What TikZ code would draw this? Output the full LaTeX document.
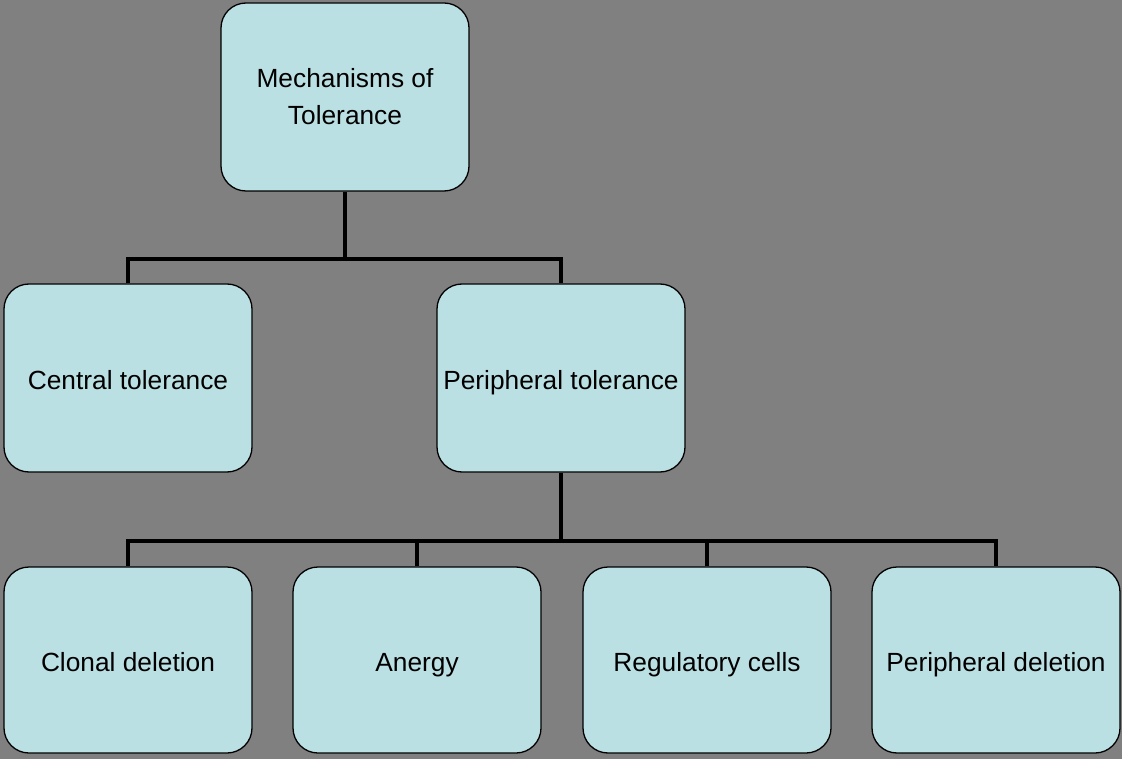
\documentclass[tikz,border=0pt]{standalone}
\usepackage{fontspec}
\setmainfont{Liberation Sans}
\definecolor{bg}{RGB}{128,128,128}
\definecolor{boxfill}{RGB}{187,224,227}
\begin{document}
\begin{tikzpicture}[x=1pt,y=-1pt,
  box/.style={draw=black,line width=1.3pt,fill=boxfill,rounded corners=25pt,
    minimum width=248pt,minimum height=188pt,inner sep=0pt,align=center,
    font=\fontsize{26.3pt}{37pt}\selectfont},
  onebox/.style={box,text height=22pt,text depth=0pt},
  lowbox/.style={onebox,minimum height=186pt},
  link/.style={draw=black,line width=3.5pt}]
\fill[bg] (0,0) rectangle (1122,759);
\useasboundingbox (0,0) rectangle (1122,759);
\node[box] (top) at (345,97) {Mechanisms of\\Tolerance};
\node[onebox] (cen) at (128,378) {Central tolerance};
\node[onebox] (per) at (561,378) {Peripheral tolerance};
\node[lowbox] (clo) at (128,660) {Clonal deletion};
\node[lowbox] (ane) at (417,660) {Anergy};
\node[lowbox] (reg) at (707,660) {Regulatory cells};
\node[lowbox] (pde) at (996,660) {Peripheral deletion};
\coordinate (j1) at (345,259);
\coordinate (j2) at (561,541);
\draw[link] (top.south) -- (j1);
\draw[link] (cen.north) |- (j1) -| (per.north);
\draw[link] (per.south) -- (j2);
\draw[link] (clo.north) |- (j2) -| (pde.north);
\draw[link] (ane.north) -- (ane.north |- j2);
\draw[link] (reg.north) -- (reg.north |- j2);
\end{tikzpicture}
\end{document}
